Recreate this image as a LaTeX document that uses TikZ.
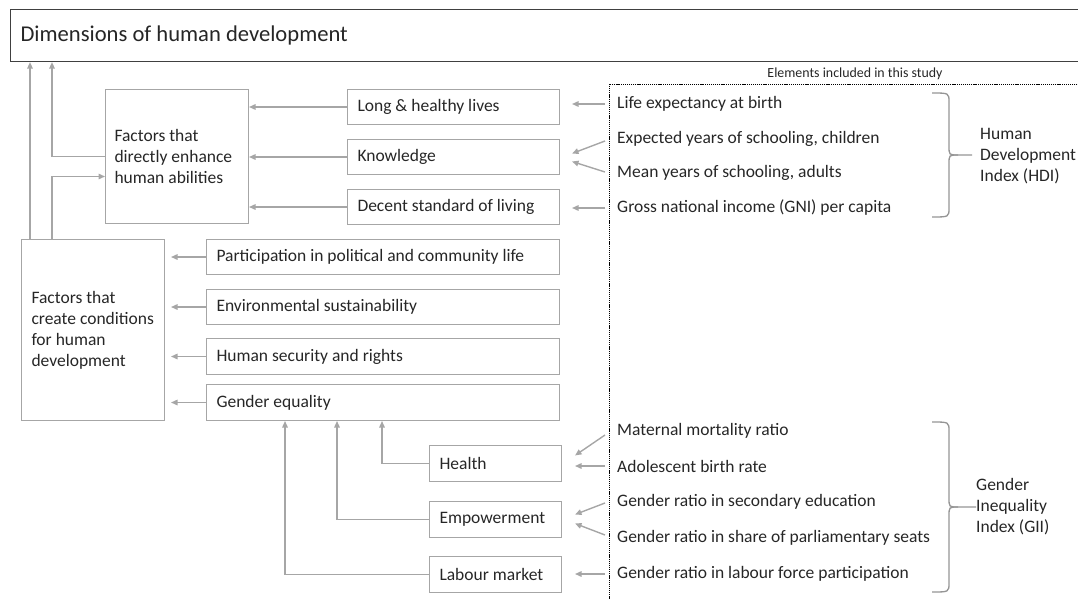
\documentclass[tikz,border=0pt]{standalone}
\usepackage{fontspec}
\setmainfont{Carlito}
\usetikzlibrary{calc,arrows.meta}
\definecolor{lg}{HTML}{A6A6A6}
\definecolor{txt}{HTML}{262626}
\newcommand{\bodyfont}{\fontsize{17.5}{21}\selectfont}
\begin{document}
\begin{tikzpicture}[x=1pt,y=-1pt,
  box/.style={draw=lg, line width=1pt, inner xsep=10pt, inner ysep=0pt, anchor=north west,
    align=flush left, text=txt, font=\bodyfont},
  ind/.style={anchor=west, inner xsep=12pt, inner ysep=2pt, text=txt, font=\bodyfont},
  arr/.style={draw=lg, line width=1.4pt, -{Triangle[length=6.5pt,width=5.5pt]}},
  bracestyle/.style={draw=lg!90!black, line width=1.3pt},
  lbl/.style={anchor=west, align=flush left, text=txt, font=\bodyfont, inner sep=0pt}]
\useasboundingbox (0,0) rectangle (1078,599);
\clip (0,0) rectangle (1078,599);
% title
\node[draw=black!75, line width=1.1pt, anchor=north west, minimum width=1090pt, minimum height=52pt,
  text width=1070pt, inner xsep=10pt, align=flush left, text=txt, font=\fontsize{22.6}{26}\selectfont]
  (title) at (10,9) {Dimensions of human development};
% study frame
\draw[black, line width=0.7pt, dash pattern=on 1.2pt off 0.9pt] (1090,84) -- (609,84) -- (609,610);
\node[text=txt, font=\fontsize{13.9}{15}\selectfont, inner sep=0pt] (study) at (855,74) {Elements included in this study};
% left column
\node[box, text width=125pt, inner xsep=9pt, minimum height=134pt] (direct) at (105,89)
  {\mbox{Factors that}\\\mbox{directly enhance}\\\mbox{human abilities}};
\node[box, text width=123pt, minimum height=181pt] (cond) at (21,239)
  {\mbox{Factors that}\\\mbox{create conditions}\\\mbox{for human}\\\mbox{development}};
% dimension boxes
\node[box, text width=192pt, minimum height=35pt] (long) at (347,89) {Long \& healthy lives};
\node[box, text width=192pt, minimum height=35pt] (know) at (347,139) {Knowledge};
\node[box, text width=192pt, minimum height=35pt] (decent) at (347,189) {Decent standard of living};
\node[box, text width=333pt, minimum height=35pt] (part) at (206,239) {Participation in political and community life};
\node[box, text width=333pt, minimum height=35pt] (env) at (206,289) {Environmental sustainability};
\node[box, text width=333pt, minimum height=36pt] (hsec) at (206,338) {Human security and rights};
\node[box, text width=333pt, minimum height=36pt] (geq) at (206,384) {Gender equality};
\node[box, text width=112pt, minimum height=36pt] (health) at (429,445) {Health};
\node[box, text width=112pt, minimum height=36pt] (emp) at (429,501) {Empowerment};
\node[box, text width=112pt, minimum height=36pt] (lab) at (429,556) {Labour market};
% indicators
\node[ind] (life) at (605,104) {Life expectancy at birth};
\node[ind] (expy) at (605,139) {Expected years of schooling, children};
\node[ind] (mean) at (605,173) {Mean years of schooling, adults};
\node[ind] (gni) at (605,208) {Gross national income (GNI) per capita};
\node[ind] (mat) at (605,431) {Maternal mortality ratio};
\node[ind] (adol) at (605,466) {Adolescent birth rate};
\node[ind] (gsec) at (605,502) {Gender ratio in secondary education};
\node[ind] (gparl) at (605,538) {Gender ratio in share of parliamentary seats};
\node[ind] (glab) at (605,574) {Gender ratio in labour force participation};
% index labels
\node[lbl] (hdi) at (980,156) {Human\\Development\\Index (HDI)};
\node[lbl] (gii) at (976,507) {Gender\\Inequality\\Index (GII)};
% braces
\draw[bracestyle] (932,93) .. controls (949,93) .. (949,102) -- (949,146) .. controls (949,155) .. (958,155) -- (972,155);
\draw[bracestyle] (932,217) .. controls (949,217) .. (949,208) -- (949,164) .. controls (949,155) .. (958,155);
\draw[bracestyle] (932,422) .. controls (949,422) .. (949,431) -- (949,498) .. controls (949,507) .. (958,507) -- (gii.west);
\draw[bracestyle] (932,592) .. controls (949,592) .. (949,583) -- (949,516) .. controls (949,507) .. (958,507);
% connectors: indicators -> dimensions
\draw[arr, shorten >=12pt] (life.west) -- (life.west -| long.east);
\draw[arr] ($(expy.west)+(0,2)$) -- ($(know.east)+(12,-3.5)$);
\draw[arr] ($(mean.west)+(0,-1)$) -- ($(know.east)+(12,4.5)$);
\draw[arr, shorten >=12pt] (gni.west) -- (gni.west -| decent.east);
\draw[arr] ($(mat.west)+(0,4)$) -- ($(health.east)+(13,-8)$);
\draw[arr, shorten >=13pt] (adol.west) -- (adol.west -| health.east);
\draw[arr] ($(gsec.west)+(0,1)$) -- ($(emp.east)+(13,-5)$);
\draw[arr] ($(gparl.west)+(0,-3)$) -- ($(emp.east)+(13,4)$);
\draw[arr, shorten >=13pt] (glab.west) -- (glab.west -| lab.east);
% dimensions -> factors
\draw[arr] (long.west) -- (long.west -| direct.east);
\draw[arr] (know.west) -- (know.west -| direct.east);
\draw[arr] (decent.west) -- (decent.west -| direct.east);
\draw[arr, shorten >=6pt] (part.west) -- (part.west -| cond.east);
\draw[arr, shorten >=6pt] (env.west) -- (env.west -| cond.east);
\draw[arr, shorten >=6pt] (hsec.west) -- (hsec.west -| cond.east);
\draw[arr, shorten >=6pt] (geq.west) -- (geq.west -| cond.east);
% gender sub-dimensions -> gender equality
\draw[arr] (health.west) -| ($(geq.south west)+(176,0)$);
\draw[arr] (emp.west) -| ($(geq.south west)+(131,0)$);
\draw[arr] (lab.west) -| ($(geq.south west)+(79,0)$);
% factors -> dimensions of human development
\coordinate (va) at ($(cond.north west)+(9,0)$);
\coordinate (vb) at ($(cond.north west)+(31,0)$);
\draw[arr] (va) -- (va |- title.south);
\draw[arr] (vb) |- ($(direct.west)+(0,20)$);
\draw[arr] (direct.west) -| (vb |- title.south);
\end{tikzpicture}
\end{document}
